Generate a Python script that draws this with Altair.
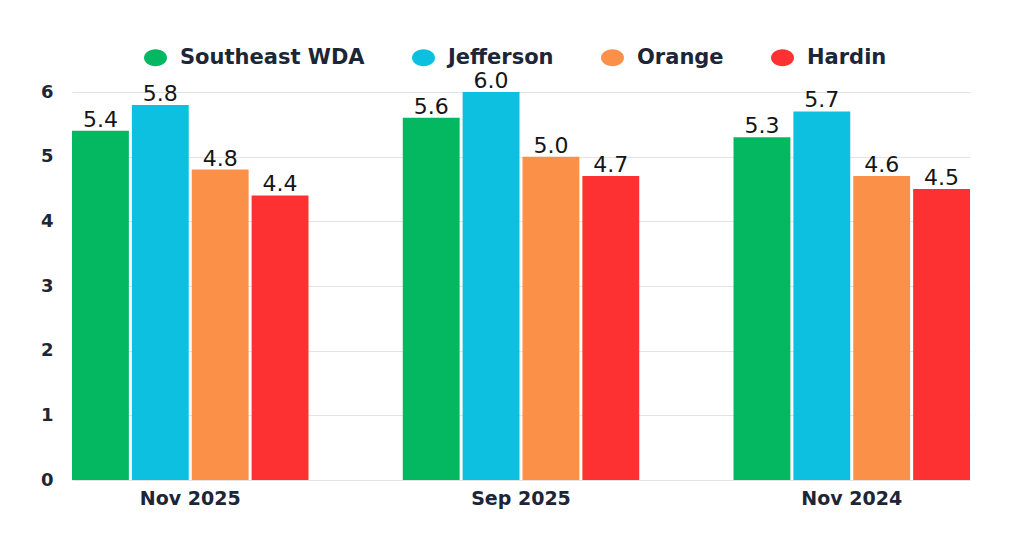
import altair as alt
import pandas as pd

periods = ["Nov 2025", "Sep 2025", "Nov 2024"]
regions = ["Southeast WDA", "Jefferson", "Orange", "Hardin"]
colors = ["#04b862", "#0ec0e0", "#fb9049", "#fd3131"]
values = {
    "Southeast WDA": [5.4, 5.6, 5.3],
    "Jefferson": [5.8, 6.0, 5.7],
    "Orange": [4.8, 5.0, 4.7],
    "Hardin": [4.4, 4.7, 4.5],
}
value_labels = {
    "Southeast WDA": ["5.4", "5.6", "5.3"],
    "Jefferson": ["5.8", "6.0", "5.7"],
    "Orange": ["4.8", "5.0", "4.6"],
    "Hardin": ["4.4", "4.7", "4.5"],
}
y_ticks = [0, 1, 2, 3, 4, 5, 6]

rows = []
for r in regions:
    for i, p in enumerate(periods):
        rows.append({"period": p, "region": r, "value": values[r][i], "label": value_labels[r][i]})
df = pd.DataFrame(rows)

FONT = "DejaVu Sans"
DARK = "#1c2636"
ELLIPSE = "M -1 0 A 1 0.74 0 1 0 1 0 A 1 0.74 0 1 0 -1 0 Z"

x = alt.X("period:N", sort=periods, title=None,
          scale=alt.Scale(paddingInner=0.285, paddingOuter=0),
          axis=alt.Axis(labelAngle=0, labelFont=FONT, labelFontSize=19, labelFontWeight="bold",
                        labelColor=DARK, ticks=False, domain=False, labelPadding=9))
xoff = alt.XOffset("region:N", sort=regions, scale=alt.Scale(paddingInner=0.05, paddingOuter=0))
y = alt.Y("value:Q", title=None,
          scale=alt.Scale(domain=[0, 6], nice=False),
          axis=alt.Axis(values=y_ticks, format="d", labelFont=FONT, labelFontSize=18,
                        labelFontWeight="bold", labelColor=DARK, ticks=False, domain=False,
                        labelPadding=19, gridColor="#e3e3e3", gridWidth=1))
color = alt.Color("region:N", sort=regions,
                  scale=alt.Scale(domain=regions, range=colors),
                  legend=alt.Legend(title=None, orient="none", direction="horizontal",
                                    legendX=72, legendY=-46,
                                    symbolType=ELLIPSE, symbolSize=529, symbolStrokeWidth=0,
                                    labelFont=FONT, labelFontSize=21, labelFontWeight="bold",
                                    labelColor=DARK, labelLimit=400,
                                    columnPadding=47, labelOffset=13))

bars = alt.Chart(df).mark_bar(strokeWidth=0).encode(
    x=x, xOffset=xoff, y=y, color=color)

text = alt.Chart(df).mark_text(baseline="alphabetic", dy=-4, font=FONT, fontSize=22,
                               color="#151515").encode(
    x=alt.X("period:N", sort=periods), xOffset=xoff, y="value:Q", text="label:N")

chart = alt.layer(bars, text).properties(
    width=898, height=388,
    background="white",
    autosize=alt.AutoSizeParams(type="none"),
    padding={"left": 64, "top": 84, "right": 46, "bottom": 60},
).configure_view(strokeWidth=0, stroke="transparent")

chart.save("out.html", embed_options={"renderer": "svg", "actions": False})
